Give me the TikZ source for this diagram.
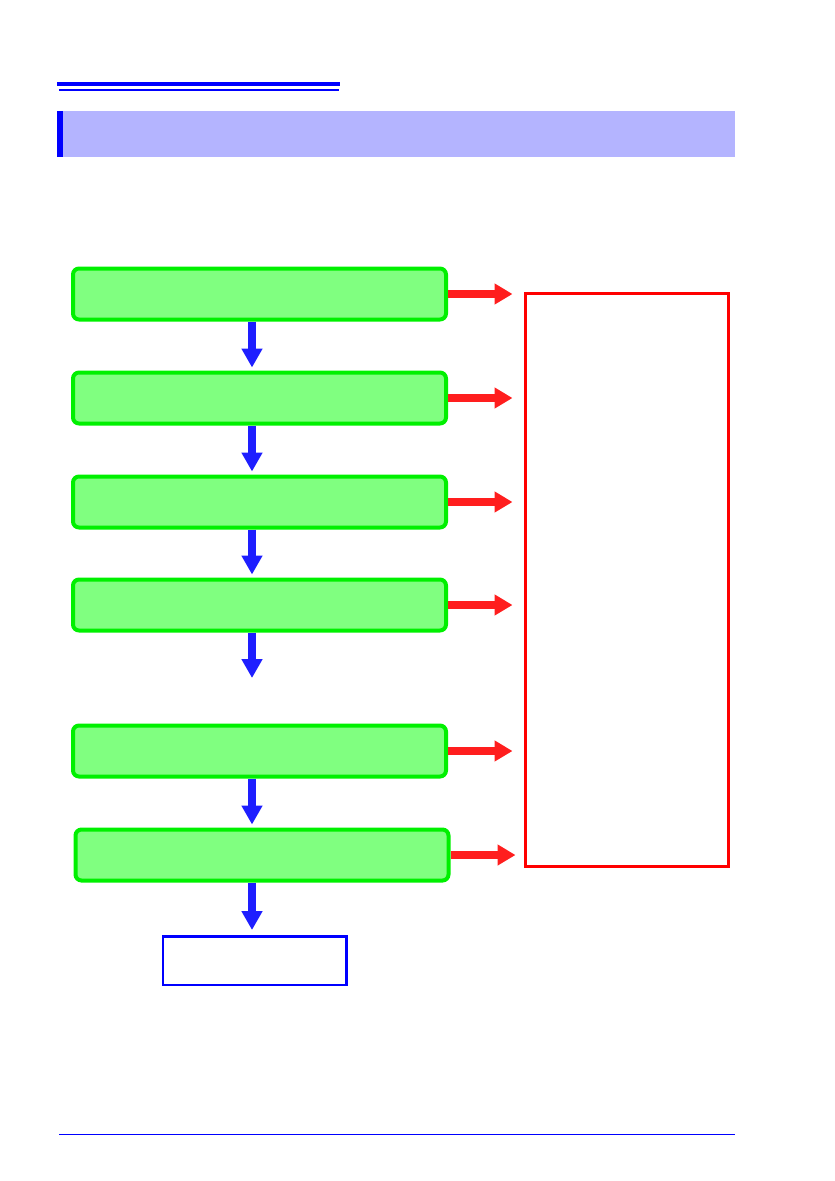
\documentclass[tikz,border=0pt]{standalone}
\usetikzlibrary{arrows.meta}
\definecolor{boxfill}{HTML}{80FF80}
\definecolor{boxline}{HTML}{00F000}
\definecolor{headfill}{HTML}{B4B4FF}
\definecolor{flowblue}{HTML}{1E1EFF}
\definecolor{flowred}{HTML}{FF1E1E}
\begin{document}
\begin{tikzpicture}[x = 1pt, y = -1pt,
		stepbox/.style = {draw = boxline, line width = 4pt, fill = boxfill, rounded corners = 6pt, minimum width = 373pt, minimum height = 51pt, inner sep = 0pt},
		down/.style = {draw = flowblue, line width = 8pt, -{Triangle[width = 20pt, length = 19pt]}, shorten > = 3pt},
		side/.style = {draw = flowred, line width = 8pt, -{Triangle[width = 20pt, length = 18pt]}, shorten > = 11.5pt}]
			\useasboundingbox (0, 0) rectangle (835, 1181);
			\fill[blue] (57, 82) rectangle (340, 86);
			\fill[blue] (59, 89) rectangle (339, 91);
			\fill[headfill] (57, 111) rectangle (735, 157);
			\fill[blue] (57, 111) rectangle (63, 157);
			\node[stepbox] (s1) at (259.5, 294) {};
			\node[stepbox] (s2) at (259.5, 398) {};
			\node[stepbox] (s3) at (259.5, 502) {};
			\node[stepbox] (s4) at (259.5, 605) {};
			\node[stepbox] (s5) at (259.5, 751) {};
			\node[stepbox] (s6) at (262, 855) {};
			\node[draw = red, line width = 3pt, minimum width = 203pt, minimum height = 573pt, inner sep = 0pt] (notes) at (627, 580) {};
			\node[draw = blue, line width = 2.5pt, minimum width = 183.5pt, minimum height = 48.5pt, inner sep = 0pt] (done) at (254.5, 960.5) {};
			\coordinate (ax) at (252, 0);
			\coordinate (gap) at (252, 681);
			\draw[down] (s1.south -| ax) -- (s2.north -| ax);
			\draw[down] (s2.south -| ax) -- (s3.north -| ax);
			\draw[down] (s3.south -| ax) -- (s4.north -| ax);
			\draw[down] (s4.south -| ax) -- (gap);
			\draw[down] (s5.south -| ax) -- (s6.north -| ax);
			\draw[down, shorten > = 5pt] (s6.south -| ax) -- (done.north -| ax);
			\draw[side] (s1.east) -- (notes.west |- s1.east);
			\draw[side] (s2.east) -- (notes.west |- s2.east);
			\draw[side] (s3.east) -- (notes.west |- s3.east);
			\draw[side] (s4.east) -- (notes.west |- s4.east);
			\draw[side] (s5.east) -- (notes.west |- s5.east);
			\draw[side, shorten > = 8.5pt] (s6.east) -- (notes.west |- s6.east);
			\draw[blue, line width = 1pt] (59, 1134.5) -- (735, 1134.5);
\end{tikzpicture}
\end{document}
